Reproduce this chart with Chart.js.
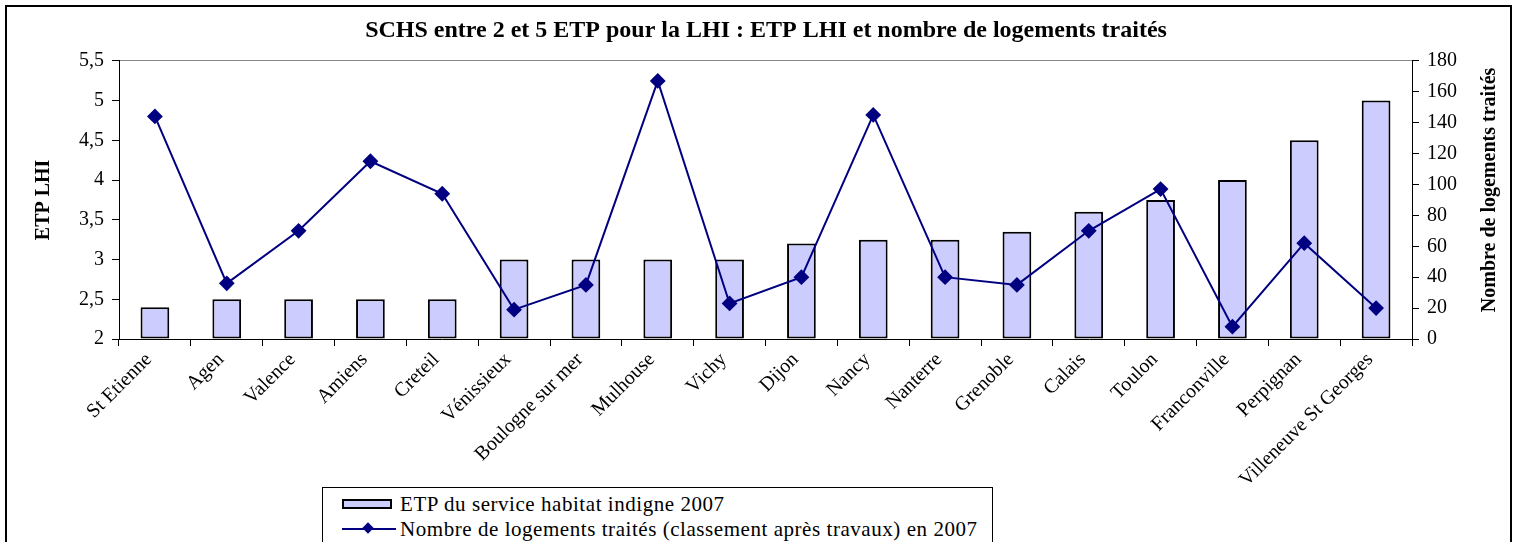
<!DOCTYPE html>
<html>
<head>
<meta charset="utf-8">
<script src="https://cdn.jsdelivr.net/npm/chart.js@4.4.1/dist/chart.umd.min.js"></script>
<style>
html, body { margin: 0; padding: 0; background: #fff; width: 1517px; height: 542px; overflow: hidden; }
#cadre { position: absolute; left: 5px; top: 5px; width: 1507px; height: 600px; border: 2px solid #000; box-sizing: border-box; }
#graph { position: absolute; left: 0; top: 0; }
#legende { position: absolute; left: 322px; top: 487px; width: 671px; height: 80px; border: 1px solid #000; box-sizing: border-box; background: #fff;
  font-family: "Liberation Serif", serif; font-size: 21px; color: #000; }
.item { position: absolute; left: 19px; height: 22px; line-height: 22px; white-space: nowrap; }
.item span.txt { position: absolute; left: 58px; top: 0; letter-spacing: 0.55px; }
.sw-barre { position: absolute; left: 0; top: 6px; width: 50px; height: 10px; box-sizing: border-box; border: 2px solid #000; background: #ccccff; }
.sw-ligne { position: absolute; left: 0; top: 10px; width: 54px; height: 2px; background: #000080; }
.sw-ligne::after { content: ""; position: absolute; left: 22px; top: -4px; width: 8px; height: 8px; background: #000080; transform: rotate(45deg); }
</style>
</head>
<body>
<div id="cadre"></div>
<canvas id="graph" width="1517" height="542"></canvas>
<div id="legende"></div>
<script>
// SCHS entre 2 et 5 ETP : ETP LHI et logements traités en 2007

const villes = ['St Etienne', 'Agen', 'Valence', 'Amiens', 'Creteil', 'Vénissieux', 'Boulogne sur mer', 'Mulhouse', 'Vichy',
    'Dijon', 'Nancy', 'Nanterre', 'Grenoble', 'Calais', 'Toulon', 'Franconville', 'Perpignan', 'Villeneuve St Georges'];

// ETP du service (axe de gauche)
const etp = [2.4, 2.5, 2.5, 2.5, 2.5, 3, 3, 3, 3, 3.2, 3.25, 3.25, 3.35, 3.6, 3.75, 4, 4.5, 5];

// nombre de logements traités (axe de droite)
const logements = [144, 36, 70, 115, 94, 19, 35, 167, 23, 40, 145, 40, 35, 70, 97, 8, 62, 20];

const titre = 'SCHS entre 2 et 5 ETP pour la LHI : ETP LHI et nombre de logements traités';
const axeGauche = 'ETP LHI';
const axeDroite = 'Nombre de logements traités';
const libelles = ['ETP du service habitat indigne 2007', 'Nombre de logements traités (classement après travaux) en 2007'];

const police = '"Liberation Serif", "Times New Roman", serif';

// titre de l'axe de droite, écrit de bas en haut comme dans Excel
const titreDroite = {
    id: 'titreDroite',
    afterDraw(chart) {
        const c = chart.ctx;
        const a = chart.chartArea;
        const s = chart.scales.y1;
        c.save();
        c.font = 'bold 20px ' + police;
        c.fillStyle = '#000';
        c.textAlign = 'center';
        c.textBaseline = 'middle';
        c.translate(s.right - 14, (a.top + a.bottom) / 2 - 10);
        c.rotate(-Math.PI / 2);
        c.fillText(axeDroite, 0, 0);
        c.restore();
    }
};

const virgule = v => String(v).replace('.', ',');

new Chart(document.getElementById('graph'), {
    type: 'bar',
    data: {
        labels: villes,
        datasets: [{
            type: 'line',
            label: libelles[1],
            data: logements,
            yAxisID: 'y1',
            borderColor: '#000080',
            backgroundColor: '#000080',
            borderWidth: 2,
            pointStyle: 'rectRot',
            pointRadius: 6.5,
            pointHoverRadius: 6.5,
            tension: 0,
            order: 0
        }, {
            type: 'bar',
            label: libelles[0],
            data: etp,
            yAxisID: 'y',
            base: 2,
            backgroundColor: '#ccccff',
            borderColor: '#000',
            borderWidth: 2,
            borderSkipped: false,
            categoryPercentage: 1,
            barPercentage: 0.4,
            order: 1
        }]
    },
    options: {
        responsive: false,
        animation: false,
        layout: { padding: { left: 28, right: 13, top: 0, bottom: 0 } },
        plugins: {
            legend: { display: false },
            tooltip: { enabled: false },
            title: {
                display: true,
                text: titre,
                color: '#000',
                font: { family: police, size: 24, weight: 'bold' },
                padding: { top: 16, bottom: 16 }
            }
        },
        scales: {
            x: {
                offset: true,
                grid: { display: true, drawOnChartArea: false, offset: true, tickLength: 7, color: '#000', lineWidth: 1 },
                border: { color: '#000', width: 1 },
                ticks: { color: '#000', font: { family: police, size: 20 }, maxRotation: 45, minRotation: 45, autoSkip: false, padding: 2, labelOffset: -6 },
                afterFit(s) { s.height = 203; }
            },
            y: {
                position: 'left',
                min: 2,
                max: 5.5,
                ticks: { stepSize: 0.5, color: '#000', font: { family: police, size: 20 }, padding: 8, callback: virgule },
                grid: {
                    color: ctx => ctx.tick && ctx.tick.value === 5.5 ? '#888' : 'rgba(0,0,0,0)',
                    tickColor: '#000',
                    tickLength: 7
                },
                border: { color: '#000', width: 1 },
                title: { display: true, text: axeGauche, color: '#000', font: { family: police, size: 20, weight: 'bold' }, padding: 4 },
                afterFit(s) { s.width = 91; }
            },
            y1: {
                position: 'right',
                min: 0,
                max: 180,
                ticks: { stepSize: 20, color: '#000', font: { family: police, size: 20 }, padding: 8 },
                grid: { drawOnChartArea: false, tickColor: '#000', tickLength: 7 },
                border: { color: '#000', width: 1 },
                afterFit(s) { s.width = 92; }
            }
        }
    },
    plugins: [titreDroite]
});

// légende dessinée à part, dans un cadre comme l'original
const leg = document.getElementById('legende');
libelles.forEach((t, i) => {
    const d = document.createElement('div');
    d.className = 'item';
    d.style.top = (5 + i * 25) + 'px';
    d.innerHTML = '<div class="' + (i === 0 ? 'sw-barre' : 'sw-ligne') + '"></div><span class="txt"></span>';
    d.querySelector('.txt').textContent = t;
    leg.appendChild(d);
});
</script>
</body>
</html>
